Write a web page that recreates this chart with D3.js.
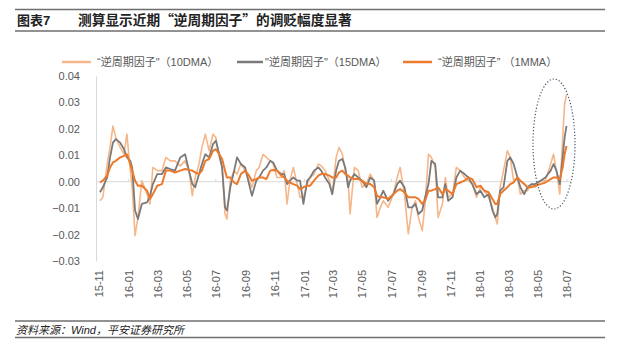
<!DOCTYPE html>
<html>
<head>
<meta charset="utf-8">
<script src="https://d3js.org/d3.v7.min.js"></script>
<style>
body { margin: 0; background: #fff; }
svg { display: block; }
</style>
</head>
<body>
<svg id="chart" width="620" height="362"></svg>
<script>
// data (date, 10DMA, 15DMA, 1MMA)
var dates = ["2015-11-03","2015-11-09","2015-11-18","2015-11-24","2015-11-30","2015-12-06","2015-12-15","2015-12-23","2015-12-29",
  "2016-01-05","2016-01-09","2016-01-15","2016-01-21","2016-01-29","2016-02-09","2016-02-15","2016-02-21","2016-03-01","2016-03-11",
  "2016-03-19","2016-03-28","2016-04-07","2016-04-18","2016-04-28","2016-05-06","2016-05-13","2016-05-19","2016-05-27","2016-06-02",
  "2016-06-09","2016-06-17","2016-06-25","2016-07-01","2016-07-08","2016-07-14","2016-07-20","2016-07-24","2016-07-31","2016-08-08",
  "2016-08-14","2016-08-22","2016-08-31","2016-09-08","2016-09-14","2016-09-23","2016-09-29","2016-10-07","2016-10-14","2016-10-22",
  "2016-10-28","2016-11-05","2016-11-14","2016-11-20","2016-11-26","2016-12-02","2016-12-09","2016-12-17","2016-12-23","2016-12-30",
  "2017-01-07","2017-01-13","2017-01-21","2017-01-30","2017-02-05","2017-02-13","2017-02-22","2017-02-28","2017-03-08","2017-03-14",
  "2017-03-21","2017-03-27","2017-04-02","2017-04-06","2017-04-15","2017-04-23","2017-05-01","2017-05-10","2017-05-18","2017-05-26",
  "2017-06-01","2017-06-08","2017-06-14","2017-06-24","2017-07-05","2017-07-13","2017-07-19","2017-07-28","2017-08-05","2017-08-13",
  "2017-08-20","2017-08-26","2017-09-03","2017-09-09","2017-09-16","2017-09-22","2017-09-30","2017-10-06","2017-10-15","2017-10-21",
  "2017-10-27","2017-11-05","2017-11-13","2017-11-21","2017-11-30","2017-12-08","2017-12-16","2017-12-25","2018-01-02","2018-01-10",
  "2018-01-19","2018-01-27","2018-02-02","2018-02-06","2018-02-12","2018-02-19","2018-02-27","2018-03-05","2018-03-12","2018-03-20",
  "2018-03-26","2018-04-03","2018-04-10","2018-04-18","2018-04-26","2018-05-07","2018-05-17","2018-05-28","2018-06-03","2018-06-09",
  "2018-06-16","2018-06-22","2018-06-26","2018-06-30"];

var dma10 = [-0.0072,-0.0059,0.0067,0.0130,0.0211,0.0167,0.0130,0.0104,0.0180,
  0.0042,-0.0021,-0.0204,-0.0135,0.0004,-0.0047,-0.0084,0.0054,0.0042,0.0042,
  0.0092,0.0079,0.0079,0.0060,0.0079,0.0042,-0.0053,0.0016,0.0067,0.0130,
  0.0180,0.0117,0.0180,0.0167,0.0092,0.0054,-0.0122,-0.0141,0.0004,0.0042,
  0.0029,0.0067,0.0042,0.0004,-0.0021,0.0042,0.0054,0.0104,0.0092,0.0079,
  0.0067,0.0016,0.0016,0.0042,-0.0084,0.0004,0.0054,-0.0009,-0.0059,-0.0059,
  -0.0009,0.0016,0.0029,0.0067,0.0060,0.0042,0.0004,-0.0047,0.0092,0.0130,
  0.0104,0.0042,0.0004,-0.0122,0.0054,0.0042,-0.0021,-0.0009,0.0029,0.0004,
  -0.0135,-0.0097,-0.0072,-0.0097,-0.0047,0.0016,0.0054,-0.0047,-0.0197,-0.0097,
  -0.0072,-0.0135,-0.0185,-0.0084,0.0104,0.0092,0.0054,-0.0135,-0.0084,0.0016,
  -0.0059,-0.0047,0.0054,0.0042,0.0016,0.0004,-0.0009,-0.0059,-0.0021,-0.0034,
  -0.0059,-0.0097,-0.0135,-0.0160,-0.0021,0.0042,0.0117,0.0092,0.0004,0.0016,
  -0.0047,-0.0034,-0.0034,-0.0009,-0.0021,0.0004,0.0004,0.0067,0.0104,0.0042,
  -0.0047,0.0167,0.0293,0.0330];

var dma15 = [-0.0040,-0.0021,0.0016,0.0092,0.0148,0.0161,0.0148,0.0123,0.0092,
  0.0079,0.0054,-0.0109,-0.0141,-0.0084,-0.0078,-0.0053,-0.0009,0.0029,0.0029,
  0.0054,0.0048,0.0042,0.0092,0.0104,0.0042,-0.0009,-0.0021,0.0029,0.0067,
  0.0104,0.0092,0.0142,0.0155,0.0104,0.0054,-0.0097,-0.0109,-0.0021,0.0042,
  0.0092,0.0067,0.0054,-0.0009,-0.0053,0.0004,0.0016,0.0042,0.0054,0.0079,
  0.0073,0.0042,0.0029,0.0029,-0.0009,0.0004,0.0016,0.0004,0.0004,-0.0084,
  0.0004,0.0016,0.0042,0.0054,0.0042,0.0016,-0.0009,-0.0047,0.0042,0.0079,
  0.0086,0.0054,-0.0021,0.0004,0.0029,0.0016,0.0004,-0.0021,0.0016,0.0004,
  -0.0084,-0.0059,-0.0034,-0.0072,-0.0047,-0.0009,0.0004,-0.0021,-0.0097,-0.0097,
  -0.0084,-0.0122,-0.0109,-0.0059,-0.0009,0.0079,0.0067,-0.0059,-0.0059,-0.0009,
  -0.0072,-0.0059,0.0016,0.0042,0.0029,0.0016,-0.0009,-0.0047,-0.0034,-0.0059,
  -0.0047,-0.0109,-0.0135,-0.0122,-0.0034,-0.0021,0.0079,0.0092,0.0067,0.0016,
  -0.0021,-0.0047,-0.0021,-0.0009,-0.0009,0.0004,0.0016,0.0042,0.0067,0.0042,
  -0.0009,0.0092,0.0167,0.0211];

var mma1 = [-0.0003,0.0004,0.0023,0.0054,0.0073,0.0079,0.0092,0.0098,0.0104,
  0.0067,0.0042,0.0004,-0.0015,-0.0015,-0.0034,-0.0065,-0.0047,-0.0015,-0.0009,
  0.0042,0.0042,0.0035,0.0042,0.0048,0.0044,0.0042,0.0035,0.0029,0.0042,
  0.0079,0.0086,0.0117,0.0123,0.0104,0.0086,0.0042,0.0016,0.0016,-0.0003,
  -0.0009,0.0029,0.0042,0.0023,0.0004,0.0010,0.0016,0.0016,0.0010,0.0042,
  0.0044,0.0042,0.0023,0.0016,0.0004,-0.0003,-0.0009,-0.0015,-0.0028,-0.0021,
  -0.0015,-0.0015,0.0004,0.0023,0.0029,0.0029,0.0023,0.0016,0.0016,0.0035,
  0.0042,0.0029,0.0023,0.0016,0.0010,0.0010,0.0004,-0.0009,-0.0009,-0.0021,
  -0.0053,-0.0059,-0.0059,-0.0065,-0.0047,-0.0034,-0.0028,-0.0040,-0.0059,-0.0059,
  -0.0059,-0.0065,-0.0084,-0.0072,-0.0034,-0.0034,-0.0028,-0.0021,-0.0047,-0.0028,
  -0.0034,-0.0047,-0.0009,-0.0003,0.0004,0.0016,0.0010,-0.0021,-0.0015,-0.0034,
  -0.0040,-0.0065,-0.0084,-0.0084,-0.0047,-0.0034,-0.0021,-0.0009,-0.0003,0.0016,
  0.0004,-0.0009,-0.0021,-0.0021,-0.0015,-0.0009,-0.0003,0.0010,0.0016,0.0016,
  0.0010,0.0054,0.0104,0.0135];

var yTicks = [-0.03,-0.02,-0.01,0.00,0.01,0.02,0.03,0.04];
var xTickDates = ["2015-11-01","2016-01-01","2016-03-01","2016-05-01","2016-07-01","2016-09-01","2016-11-01",
  "2017-01-01","2017-03-01","2017-05-01","2017-07-01","2017-09-01","2017-11-01","2018-01-01","2018-03-01",
  "2018-05-01","2018-07-01"];
var seriesNames = ["\u201C逆周期因子\"（10DMA）", "\"逆周期因子\"（15DMA）", "\u201C逆周期因子\u201D （1MMA）"];
var seriesColors = ["#f5b78a", "#7a7a7a", "#ec7a2c"];

var parse = d3.timeParse("%Y-%m-%d");
var font = "'Liberation Sans', 'Noto Sans CJK SC', sans-serif";
var svg = d3.select("#chart");

// header & footer
svg.append("line").attr("x1",15).attr("x2",605).attr("y1",9.5).attr("y2",9.5).attr("stroke","#6e6e6e").attr("stroke-width",1.5);
svg.append("line").attr("x1",15).attr("x2",605).attr("y1",31).attr("y2",31).attr("stroke","#6e6e6e").attr("stroke-width",1.5);
svg.append("text").attr("x",17).attr("y",25).attr("font-family",font).attr("font-weight","bold").attr("font-size",13).attr("fill","#222").text("图表7");
svg.append("text").attr("x",78).attr("y",25).attr("font-family","'Noto Sans CJK SC', sans-serif").attr("font-weight","bold").attr("font-size",13.7).attr("fill","#222").text("测算显示近期“逆周期因子”的调贬幅度显著");

svg.append("line").attr("x1",15).attr("x2",605).attr("y1",321).attr("y2",321).attr("stroke","#6e6e6e").attr("stroke-width",1.5);
svg.append("line").attr("x1",15).attr("x2",605).attr("y1",337.5).attr("y2",337.5).attr("stroke","#6e6e6e").attr("stroke-width",1.5);
svg.append("text").attr("x",16).attr("y",333.5).attr("font-family",font).attr("font-style","italic").attr("font-size",11).attr("fill","#222").text("资料来源：Wind，平安证券研究所");

// scales
var xs = d3.scaleTime().domain([parse("2015-11-01"), parse("2018-07-01")]).range([99, 567]);
var ys = d3.scaleLinear().domain([-0.03, 0.04]).range([261, 76]);

// y axis
var yAxis = svg.append("g").attr("transform","translate(96,0)")
  .call(d3.axisLeft(ys).tickValues(yTicks).tickSize(0).tickPadding(16).tickFormat(d3.format(".2f")));
yAxis.select(".domain").attr("stroke","#d9d9d9");
yAxis.selectAll("text").attr("font-family",font).attr("font-size",11).attr("fill","#595959");

// zero line with small ticks
svg.append("line").attr("x1",96).attr("x2",571).attr("y1",ys(0)).attr("y2",ys(0)).attr("stroke","#d9d9d9").attr("stroke-width",1);
svg.selectAll(".zt").data(xTickDates.filter(function(d,i){ return i % 3 == 1; })).enter().append("line")
  .attr("x1",function(d){ return xs(parse(d)); }).attr("x2",function(d){ return xs(parse(d)); })
  .attr("y1",ys(0)).attr("y2",ys(0)-3).attr("stroke","#d9d9d9");

// x labels
var xAxis = svg.append("g").attr("transform","translate(0,268)")
  .call(d3.axisBottom(xs).tickValues(xTickDates.map(parse)).tickSize(0).tickFormat(d3.timeFormat("%y-%m")));
xAxis.select(".domain").remove();
xAxis.selectAll("text").attr("font-family",font).attr("font-size",11).attr("fill","#595959")
  .attr("transform","rotate(-90)").attr("x",-2).attr("y",0).attr("dy","0.35em").style("text-anchor","end");

// lines
var allSeries = [dma10, dma15, mma1];
var widths = [1.6, 1.8, 2];
allSeries.forEach(function(vals, k) {
  var line = d3.line().x(function(d,i){ return xs(parse(dates[i])); }).y(function(d){ return ys(d); });
  svg.append("path").datum(vals).attr("d", line).attr("fill","none")
    .attr("stroke", seriesColors[k]).attr("stroke-width", widths[k]).attr("stroke-linejoin","round");
});

// dotted ellipse round the latest move
svg.append("ellipse").attr("cx",554).attr("cy",144).attr("rx",21).attr("ry",65)
  .attr("fill","none").attr("stroke","#44546a").attr("stroke-width",1.2).attr("stroke-dasharray","1.2,2");

// legend
var legX = [62, 237, 403];
var legend = svg.selectAll(".leg").data(seriesNames).enter().append("g").attr("transform",function(d,i){ return "translate(" + legX[i] + ",62)"; });
legend.append("line").attr("x1",0).attr("x2",function(d,i){ return i == 1 ? 26 : 29; }).attr("y1",0).attr("y2",0)
  .attr("stroke",function(d,i){ return seriesColors[i]; }).attr("stroke-width",2.5);
legend.append("text").attr("x",function(d,i){ return i == 1 ? 28 : 35; }).attr("y",4).attr("font-family",font).attr("font-size",11).attr("fill","#595959").text(function(d){ return d; });
</script>
</body>
</html>
